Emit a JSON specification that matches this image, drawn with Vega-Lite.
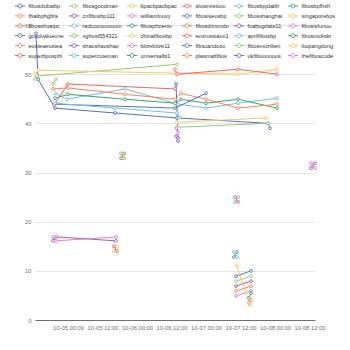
{
  "$schema": "https://vega.github.io/schema/vega-lite/v6.json",
  "width": 280,
  "height": 295,
  "autosize": {"type": "none"},
  "padding": {"left": 35, "top": 25, "right": 35, "bottom": 30},
  "background": "white",
  "config": {
    "view": {"stroke": null},
    "font": "Liberation Sans"
  },
  "data": {"values": [
    {"s": "fibosdubaibp", "t": "2023-10-04T12:52:00", "v": 58.3},
    {"s": "fibosdubaibp", "t": "2023-10-04T13:34:00", "v": 49.0},
    {"s": "fibosdubaibp", "t": "2023-10-04T19:29:00", "v": 43.1},
    {"s": "fibosdubaibp", "t": "2023-10-05T16:21:00", "v": 42.1},
    {"s": "fibosdubaibp", "t": "2023-10-06T13:55:00", "v": 41.1},
    {"s": "fibosdubaibp", "t": "2023-10-07T21:34:00", "v": 40.0},
    {"s": "fibosdubaibp", "t": "2023-10-07T22:16:00", "v": 39.0},
    {"s": "fibosgoodman", "t": "2023-10-04T12:31:00", "v": 49.0},
    {"s": "fibosgoodman", "t": "2023-10-04T13:13:00", "v": 49.6},
    {"s": "fibosgoodman", "t": "2023-10-06T13:55:00", "v": 52.0},
    {"s": "bpacbpacbpac", "t": "2023-10-04T12:31:00", "v": 50.0},
    {"s": "bpacbpacbpac", "t": "2023-10-04T13:34:00", "v": 50.8},
    {"s": "bpacbpacbpac", "t": "2023-10-06T14:16:00", "v": 50.2},
    {"s": "bpacbpacbpac", "t": "2023-10-07T11:08:00", "v": 50.0},
    {"s": "bpacbpacbpac", "t": "2023-10-08T00:42:00", "v": 51.0},
    {"s": "slowmistioio", "t": "2023-10-06T13:13:00", "v": 51.0},
    {"s": "slowmistioio", "t": "2023-10-06T13:55:00", "v": 50.0},
    {"s": "slowmistioio", "t": "2023-10-07T11:08:00", "v": 51.0},
    {"s": "slowmistioio", "t": "2023-10-08T00:42:00", "v": 50.0},
    {"s": "fibosbpjdabh", "t": "2023-10-04T19:29:00", "v": 46.1},
    {"s": "fibosbpjdabh", "t": "2023-10-04T23:39:00", "v": 44.9},
    {"s": "fibosbpjdabh", "t": "2023-10-05T19:50:00", "v": 47.0},
    {"s": "fibosbpjdabh", "t": "2023-10-06T14:16:00", "v": 43.9},
    {"s": "fibosbpjdabh", "t": "2023-10-07T00:00:00", "v": 43.1},
    {"s": "fibosbpjdabh", "t": "2023-10-07T11:08:00", "v": 44.1},
    {"s": "fibosbpjdabh", "t": "2023-10-08T00:42:00", "v": 45.1},
    {"s": "fibosbpfhsh", "t": "2023-10-04T19:29:00", "v": 45.1},
    {"s": "fibosbpfhsh", "t": "2023-10-05T00:00:00", "v": 45.9},
    {"s": "fibosbpfhsh", "t": "2023-10-05T19:50:00", "v": 44.9},
    {"s": "fibosbpfhsh", "t": "2023-10-06T13:13:00", "v": 44.1},
    {"s": "fibosbpfhsh", "t": "2023-10-06T15:18:00", "v": 44.9},
    {"s": "fibosbpfhsh", "t": "2023-10-07T00:00:00", "v": 44.1},
    {"s": "fibosbpfhsh", "t": "2023-10-07T11:08:00", "v": 44.9},
    {"s": "fibosbpfhsh", "t": "2023-10-08T00:42:00", "v": 43.1},
    {"s": "fbaibphgbfa", "t": "2023-10-04T18:47:00", "v": 47.0},
    {"s": "fbaibphgbfa", "t": "2023-10-05T00:00:00", "v": 47.2},
    {"s": "fbaibphgbfa", "t": "2023-10-05T19:50:00", "v": 45.9},
    {"s": "fbaibphgbfa", "t": "2023-10-06T13:13:00", "v": 44.9},
    {"s": "fbaibphgbfa", "t": "2023-10-06T15:18:00", "v": 46.1},
    {"s": "fbaibphgbfa", "t": "2023-10-07T00:00:00", "v": 44.9},
    {"s": "fbaibphgbfa", "t": "2023-10-07T11:08:00", "v": 43.1},
    {"s": "fbaibphgbfa", "t": "2023-10-08T00:42:00", "v": 43.9},
    {"s": "cnfibosbp111", "t": "2023-10-04T18:47:00", "v": 16.1},
    {"s": "cnfibosbp111", "t": "2023-10-04T19:50:00", "v": 16.9},
    {"s": "cnfibosbp111", "t": "2023-10-05T16:42:00", "v": 16.1},
    {"s": "williamfouvy", "t": "2023-10-04T18:47:00", "v": 16.9},
    {"s": "williamfouvy", "t": "2023-10-04T19:50:00", "v": 16.1},
    {"s": "williamfouvy", "t": "2023-10-05T16:42:00", "v": 16.9},
    {"s": "fibosiseosbp", "t": "2023-10-04T19:29:00", "v": 43.9},
    {"s": "fibosiseosbp", "t": "2023-10-06T13:13:00", "v": 43.1},
    {"s": "fibosiseosbp", "t": "2023-10-07T00:00:00", "v": 46.1},
    {"s": "fibosshanghai", "t": "2023-10-07T10:26:00", "v": 7.9},
    {"s": "fibosshanghai", "t": "2023-10-07T15:40:00", "v": 8.9},
    {"s": "singaporebps", "t": "2023-10-05T16:00:00", "v": 14.0},
    {"s": "singaporebps", "t": "2023-10-05T17:03:00", "v": 15.0},
    {"s": "fibosshuaipc", "t": "2023-10-04T19:08:00", "v": 43.7},
    {"s": "fibosshuaipc", "t": "2023-10-05T00:00:00", "v": 48.0},
    {"s": "fibosshuaipc", "t": "2023-10-06T13:13:00", "v": 47.0},
    {"s": "radooooooooon", "t": "2023-10-04T19:29:00", "v": 44.1},
    {"s": "radooooooooon", "t": "2023-10-05T16:21:00", "v": 43.1},
    {"s": "radooooooooon", "t": "2023-10-06T13:55:00", "v": 42.1},
    {"s": "radooooooooon", "t": "2023-10-06T14:57:00", "v": 41.1},
    {"s": "fibosphoenix", "t": "2023-10-05T18:26:00", "v": 32.9},
    {"s": "fibosphoenix", "t": "2023-10-05T19:29:00", "v": 33.9},
    {"s": "fibosdimondo", "t": "2023-10-05T18:26:00", "v": 33.9},
    {"s": "fibosdimondo", "t": "2023-10-05T19:29:00", "v": 32.9},
    {"s": "foabugdate11", "t": "2023-10-08T12:31:00", "v": 30.9},
    {"s": "foabugdate11", "t": "2023-10-08T13:55:00", "v": 31.9},
    {"s": "fibosisfunoo", "t": "2023-10-08T12:31:00", "v": 31.9},
    {"s": "fibosisfunoo", "t": "2023-10-08T13:55:00", "v": 30.9},
    {"s": "goodvalueone", "t": "2023-10-06T13:34:00", "v": 48.0},
    {"s": "goodvalueone", "t": "2023-10-06T14:16:00", "v": 37.0},
    {"s": "xghost554321", "t": "2023-10-04T18:47:00", "v": 48.0},
    {"s": "xghost554321", "t": "2023-10-04T19:50:00", "v": 49.0},
    {"s": "chinafibosbp", "t": "2023-10-06T13:55:00", "v": 40.2},
    {"s": "chinafibosbp", "t": "2023-10-07T20:52:00", "v": 41.1},
    {"s": "eosrussiaon1", "t": "2023-10-05T16:00:00", "v": 15.0},
    {"s": "eosrussiaon1", "t": "2023-10-05T17:03:00", "v": 14.0},
    {"s": "aprilfibosbp", "t": "2023-10-07T10:05:00", "v": 24.0},
    {"s": "aprilfibosbp", "t": "2023-10-07T11:08:00", "v": 25.0},
    {"s": "fibosrockskr", "t": "2023-10-07T09:44:00", "v": 12.8},
    {"s": "fibosrockskr", "t": "2023-10-07T10:47:00", "v": 13.8},
    {"s": "eosteaeostea", "t": "2023-10-07T10:26:00", "v": 5.9},
    {"s": "eosteaeostea", "t": "2023-10-07T15:40:00", "v": 6.9},
    {"s": "shaoshaoshao", "t": "2023-10-07T10:26:00", "v": 6.9},
    {"s": "shaoshaoshao", "t": "2023-10-07T15:40:00", "v": 7.9},
    {"s": "bitzebitze11", "t": "2023-10-07T10:26:00", "v": 4.9},
    {"s": "bitzebitze11", "t": "2023-10-07T15:40:00", "v": 5.9},
    {"s": "fibscandotio", "t": "2023-10-07T10:26:00", "v": 8.9},
    {"s": "fibscandotio", "t": "2023-10-07T15:40:00", "v": 10.0},
    {"s": "fibosmoziben", "t": "2023-10-06T13:55:00", "v": 39.2},
    {"s": "fibosmoziben", "t": "2023-10-07T21:34:00", "v": 40.0},
    {"s": "liuqiangdong", "t": "2023-10-07T10:47:00", "v": 11.0},
    {"s": "liuqiangdong", "t": "2023-10-07T15:18:00", "v": 3.0},
    {"s": "superbpusphl", "t": "2023-10-07T10:05:00", "v": 25.0},
    {"s": "superbpusphl", "t": "2023-10-07T11:08:00", "v": 24.0},
    {"s": "supercuteman", "t": "2023-10-07T09:44:00", "v": 13.8},
    {"s": "supercuteman", "t": "2023-10-07T10:47:00", "v": 12.8},
    {"s": "universalbi1", "t": "2023-10-07T14:57:00", "v": 4.5},
    {"s": "universalbi1", "t": "2023-10-07T15:40:00", "v": 5.5},
    {"s": "plasmatfibos", "t": "2023-10-07T14:57:00", "v": 3.5},
    {"s": "plasmatfibos", "t": "2023-10-07T15:40:00", "v": 4.1},
    {"s": "ukfiboooooos", "t": "2023-10-06T13:34:00", "v": 37.4},
    {"s": "ukfiboooooos", "t": "2023-10-06T14:16:00", "v": 36.4},
    {"s": "thefiboscode", "t": "2023-10-06T13:34:00", "v": 39.0},
    {"s": "thefiboscode", "t": "2023-10-06T14:16:00", "v": 38.0}
  ]},
  "mark": {"type": "line", "strokeWidth": 1, "point": {"filled": false, "fill": "white", "size": 8, "strokeWidth": 0.9}},
  "encoding": {
    "x": {
      "field": "t", "type": "temporal",
      "scale": {"nice": false},
      "axis": {"title": null, "format": "%m-%d %H:%M", "tickCount": 8, "grid": false, "domainColor": "#6E7079", "ticks": false, "labelPadding": 4, "labelFontSize": 5.8, "labelColor": "#6E7079", "labelFlush": false, "labelOverlap": false}
    },
    "y": {
      "field": "v", "type": "quantitative",
      "scale": {"domain": [0, 60], "nice": false},
      "axis": {"title": null, "values": [0, 10, 20, 30, 40, 50, 60], "domain": false, "ticks": false, "gridColor": "#E0E6F1", "labelPadding": 4, "labelFontSize": 5.8, "labelColor": "#6E7079"}
    },
    "color": {
      "field": "s", "type": "nominal",
      "scale": {
        "domain": ["fibosdubaibp", "fibosgoodman", "bpacbpacbpac", "slowmistioio", "fibosbpjdabh", "fibosbpfhsh", "fbaibphgbfa", "cnfibosbp111", "williamfouvy", "fibosiseosbp", "fibosshanghai", "singaporebps", "fibosshuaipc", "radooooooooon", "fibosphoenix", "fibosdimondo", "foabugdate11", "fibosisfunoo", "goodvalueone", "xghost554321", "chinafibosbp", "eosrussiaon1", "aprilfibosbp", "fibosrockskr", "eosteaeostea", "shaoshaoshao", "bitzebitze11", "fibscandotio", "fibosmoziben", "liuqiangdong", "superbpusphl", "supercuteman", "universalbi1", "plasmatfibos", "ukfiboooooos", "thefiboscode"],
        "range": ["#5470c6", "#91cc75", "#fac858", "#ee6666", "#73c0de", "#3ba272", "#fc8452", "#9a60b4", "#ea7ccc", "#5470c6", "#91cc75", "#fac858", "#ee6666", "#73c0de", "#3ba272", "#fc8452", "#9a60b4", "#ea7ccc", "#5470c6", "#91cc75", "#fac858", "#ee6666", "#73c0de", "#3ba272", "#fc8452", "#9a60b4", "#ea7ccc", "#5470c6", "#91cc75", "#fac858", "#ee6666", "#73c0de", "#3ba272", "#fc8452", "#9a60b4", "#ea7ccc"]
      },
      "legend": {
        "orient": "none", "legendX": -20, "legendY": -24, "direction": "horizontal", "columns": 6, "title": null,
        "symbolLimit": 0,
        "symbolType": "M-1.2,0H-0.45M0.45,0H1.2M0.45,0A0.45,0.45,0,1,1,-0.45,0A0.45,0.45,0,1,1,0.45,0",
        "symbolSize": 72, "symbolStrokeWidth": 1, "symbolFillColor": "white",
        "labelFontSize": 5.6, "labelColor": "#333", "rowPadding": 0.9, "columnPadding": 2, "labelOffset": 3.5, "labelLimit": 100
      }
    }
  }
}
